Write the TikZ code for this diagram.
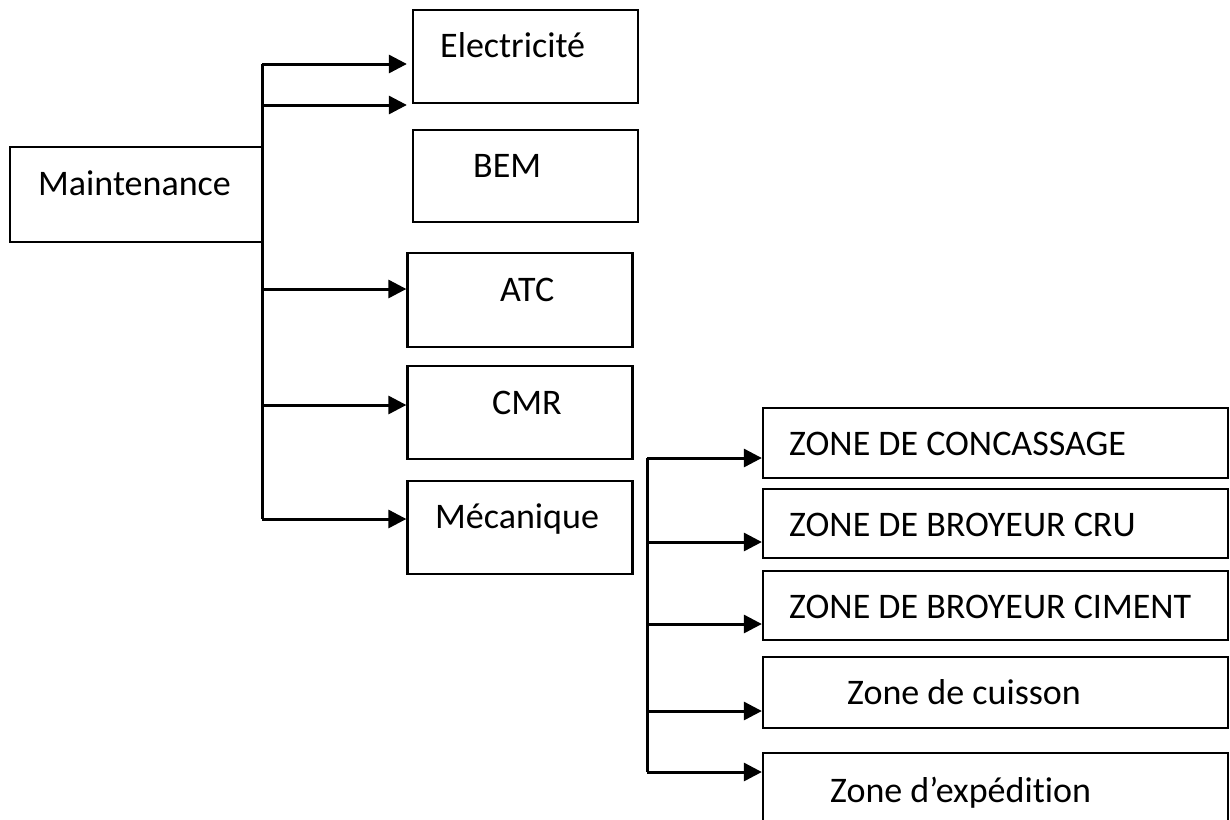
\documentclass[tikz,border=0pt]{standalone}
\usepackage{fontspec}
\setmainfont{Carlito}[Ligatures={NoCommon}]
\usetikzlibrary{arrows.meta}
\begin{document}
\begin{tikzpicture}[x=1pt,y=-1pt,
  box/.style={draw=black,line width=2.3pt,rectangle,inner sep=0pt},
  conn/.style={line width=3pt,-{Triangle[length=18pt,width=18pt]}},
  trunk/.style={line width=3pt},
  lbl/.style={anchor=base west,inner sep=0pt,font=\fontsize{36}{40}\selectfont}]
\useasboundingbox (0,0) rectangle (1230,819);
% boxes
\node[box,minimum width=252pt,minimum height=95pt] (maint) at (136,194.5) {};
\node[box,minimum width=225pt,minimum height=93pt] (elec) at (525.5,56.5) {};
\node[box,minimum width=225pt,minimum height=92pt] (bem) at (525.5,176) {};
\node[box,minimum width=225pt,minimum height=94pt] (atc) at (520,300) {};
\node[box,minimum width=225pt,minimum height=93pt] (cmr) at (520,412.5) {};
\node[box,minimum width=225pt,minimum height=93pt] (meca) at (520,527.5) {};
\node[box,minimum width=465pt,minimum height=70pt] (z1) at (995.5,443) {};
\node[box,minimum width=465pt,minimum height=69pt] (z2) at (995.5,523.5) {};
\node[box,minimum width=465pt,minimum height=69pt] (z3) at (995.5,605.5) {};
\node[box,minimum width=465pt,minimum height=71pt] (z4) at (995.5,692.5) {};
\node[box,minimum width=465pt,minimum height=110pt] (z5) at (995.5,808) {};
% labels
\node[lbl] (tmaint) at (38,195) {Maintenance};
\node[lbl] (telec) at (440,57) {Electricité};
\node[lbl] (tbem) at (473,177) {BEM};
\node[lbl] (tatc) at (500,301) {ATC};
\node[lbl] (tcmr) at (492,414) {CMR};
\node[lbl] (tmeca) at (435,528) {Mécanique};
\node[lbl] (tz1) at (789,455) {ZONE DE CONCASSAGE};
\node[lbl] (tz2) at (789,536) {ZONE DE BROYEUR CRU};
\node[lbl] (tz3) at (789,618) {ZONE DE BROYEUR CIMENT};
\node[lbl] (tz4) at (847,704) {Zone de cuisson};
\node[lbl] (tz5) at (830,802) {Zone d’expédition};
% main trunk
\coordinate (a1) at (262,64);
\coordinate (a2) at (262,105);
\coordinate (a3) at (262,289);
\coordinate (a4) at (262,405);
\coordinate (a5) at (262,519);
\draw[trunk] (a1) -- (a5);
\draw[conn,shorten >=5pt] (a1) -- (a1 -| elec.west);
\draw[conn,shorten >=5pt] (a2) -- (a2 -| elec.west);
\draw[conn] (a3) -- (a3 -| atc.west);
\draw[conn] (a4) -- (a4 -| cmr.west);
\draw[conn] (a5) -- (a5 -| meca.west);
% second trunk
\coordinate (b1) at (647,458);
\coordinate (b2) at (647,542);
\coordinate (b3) at (647,624);
\coordinate (b4) at (647,711);
\coordinate (b5) at (647,772);
\draw[trunk] (b1) -- (b5);
\draw[conn] (b1) -- (b1 -| z1.west);
\draw[conn] (b2) -- (b2 -| z2.west);
\draw[conn] (b3) -- (b3 -| z3.west);
\draw[conn] (b4) -- (b4 -| z4.west);
\draw[conn] (b5) -- (b5 -| z5.west);
\end{tikzpicture}
\end{document}
